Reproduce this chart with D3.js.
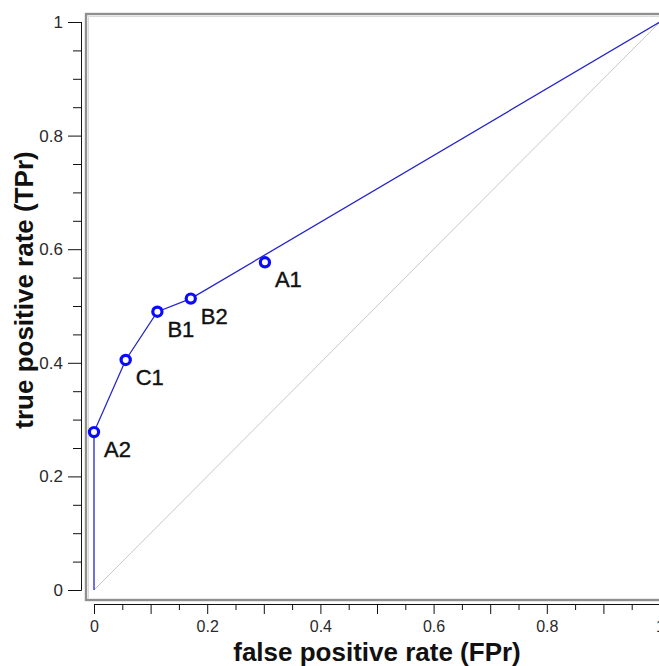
<!DOCTYPE html>
<html>
<head>
<meta charset="utf-8">
<script src="https://cdn.jsdelivr.net/npm/d3@7"></script>
<style>
  html, body { margin: 0; padding: 0; background: #ffffff; }
  svg { display: block; }
</style>
</head>
<body>
<svg id="chart" width="659" height="666"></svg>
<script>
// ---- data ----
const pointLabels = ["A1", "A2", "B1", "B2", "C1"];
const pointFPr    = [0.302, 0.0, 0.112, 0.171, 0.056];
const pointTPr    = [0.577, 0.278, 0.490, 0.513, 0.405];
// ROC convex hull path: start, hull points, end
const hullOrder   = ["A2", "C1", "B1", "B2"];
const hullStart   = [0, 0];
const hullEnd     = [1, 1];
const diagonal    = [[0, 0], [1, 1]];
const majorTicks  = [0, 0.2, 0.4, 0.6, 0.8, 1];
const tickLabels  = ["0", "0.2", "0.4", "0.6", "0.8", "1"];
const xTitle = "false positive rate (FPr)";
const yTitle = "true positive rate (TPr)";

// ---- layout ----
const svg = d3.select("#chart");
const x = d3.scaleLinear().domain([0, 1]).range([94, 660]);
const y = d3.scaleLinear().domain([0, 1]).range([590, 22]);
const allTicks = d3.range(0, 21).map(i => i / 20);
const isMajor = v => majorTicks.some(m => Math.abs(m - v) < 1e-9);
const isTenth = v => Math.abs(Math.round(v * 10) - v * 10) < 1e-9;
const labelFor = v => { const i = majorTicks.findIndex(m => Math.abs(m - v) < 1e-9); return i >= 0 ? tickLabels[i] : ""; };
const FONT = "'Liberation Sans', Arial, sans-serif";

// frame
svg.append("rect").attr("x", 86).attr("y", 14).attr("width", 700).attr("height", 586)
  .attr("fill", "none").attr("stroke", "#8f8f8f").attr("stroke-width", 2.4);
svg.append("path")
  .attr("d", "M88.5,598.5 V16.5 H700").attr("fill", "none").attr("stroke", "#dadada").attr("stroke-width", 1);

// y axis
const yAxis = svg.append("g").attr("transform", "translate(81,0)")
  .call(d3.axisLeft(y).tickValues(allTicks).tickSizeOuter(0).tickPadding(5).tickFormat(labelFor));
yAxis.select(".domain").attr("stroke", "#111").attr("d", `M0.5,${y(1)}V${y(0) + 0.5}`);
yAxis.selectAll(".tick line").attr("stroke", "#111").attr("x1", 0.5).attr("x2", d => isMajor(d) ? -13 : -8);
yAxis.selectAll(".tick text").attr("x", -18).attr("fill", "#2a2a2a")
  .style("font-family", FONT).style("font-size", "17px");

// x axis
const xAxis = svg.append("g").attr("transform", "translate(0,604)")
  .call(d3.axisBottom(x).tickValues(allTicks).tickSizeOuter(0).tickPadding(5).tickFormat(labelFor));
xAxis.select(".domain").attr("stroke", "#111").attr("d", `M${x(0)},0.5H${x(1) + 10}`);
xAxis.selectAll(".tick line").attr("stroke", "#111").attr("y1", 0.5).attr("y2", d => isTenth(d) ? 10 : 6);
xAxis.selectAll(".tick text").attr("y", 17).attr("fill", "#2a2a2a")
  .style("font-family", FONT).style("font-size", "16px");

// diagonal
svg.append("path")
  .attr("d", d3.line().x(d => x(d[0])).y(d => y(d[1]))(diagonal))
  .attr("fill", "none").attr("stroke", "#c8c8c8").attr("stroke-width", 1);

// hull line
const lookup = Object.fromEntries(pointLabels.map((l, i) => [l, [pointFPr[i], pointTPr[i]]]));
const hullPts = [hullStart, ...hullOrder.map(l => lookup[l]), hullEnd];
svg.append("path")
  .attr("d", d3.line().x(d => x(d[0])).y(d => y(d[1]))(hullPts))
  .attr("fill", "none").attr("stroke", "#2626cc").attr("stroke-width", 1.3);

// markers
const pts = pointLabels.map((l, i) => ({ label: l, fx: pointFPr[i], ty: pointTPr[i] }));
svg.selectAll("circle.pt").data(pts).enter().append("circle").attr("class", "pt")
  .attr("cx", d => x(d.fx)).attr("cy", d => y(d.ty)).attr("r", 4.6)
  .attr("fill", "#ffffff").attr("stroke", "#0a0aff").attr("stroke-width", 3.2);

svg.selectAll("text.lbl").data(pts).enter().append("text").attr("class", "lbl")
  .attr("x", d => x(d.fx) + 10).attr("y", d => y(d.ty) + 25)
  .attr("fill", "#111").attr("stroke", "#111").attr("stroke-width", 0.4)
  .style("font-family", FONT).style("font-size", "22px")
  .text(d => d.label);

// titles
svg.append("text").attr("x", 377).attr("y", 661).attr("text-anchor", "middle")
  .attr("fill", "#111")
  .style("font-family", FONT).style("font-size", "26px").style("font-weight", "bold")
  .text(xTitle);
svg.append("text").attr("transform", "translate(33,290) rotate(-90)").attr("text-anchor", "middle")
  .attr("fill", "#111")
  .style("font-family", FONT).style("font-size", "26px").style("font-weight", "bold")
  .text(yTitle);
</script>
</body>
</html>
